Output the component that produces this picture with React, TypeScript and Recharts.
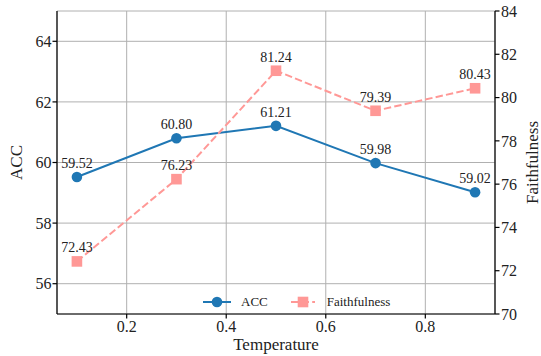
import React from "react"
import {
  LineChart, Line, XAxis, YAxis, CartesianGrid, LabelList,
} from "recharts"

const temps = [0.1, 0.3, 0.5, 0.7, 0.9]
const accValues = [59.52, 60.8, 61.21, 59.98, 59.02]
const faithValues = [72.43, 76.23, 81.24, 79.39, 80.43]
const xTicks = [0.2, 0.4, 0.6, 0.8]
const accTicks = [56, 58, 60, 62, 64]
const faithTicks = [70, 72, 74, 76, 78, 80, 82, 84]

const data = temps.map((t, i) => ({ t, acc: accValues[i], faith: faithValues[i] }))

const FONT = "'Liberation Serif', 'DejaVu Serif', serif"
const BLUE = "#1f77b4"
const PINK = "#ff9896"
const tickStyle = { fontSize: 16, fill: "#222", fontFamily: FONT }

const Square = (props: any) => {
  const { cx, cy } = props
  if (cx == null || cy == null) return null
  return <rect x={cx - 5.3} y={cy - 5.3} width={10.6} height={10.6} fill={PINK} />
}

const LegendBox = () => (
  <div style={{
    position: "absolute", left: 202, top: 295, display: "flex", alignItems: "center",
    fontFamily: FONT, fontSize: 13, color: "#222", lineHeight: "14px",
  }}>
    <svg width={30} height={14}>
      <line x1={1} y1={7} x2={29} y2={7} stroke={BLUE} strokeWidth={2} />
      <circle cx={15} cy={7} r={5.3} fill={BLUE} />
    </svg>
    <span style={{ marginLeft: 9, marginRight: 22 }}>ACC</span>
    <svg width={26} height={14}>
      <line x1={1} y1={7} x2={25} y2={7} stroke={PINK} strokeWidth={2} strokeDasharray="7.4 3.2" />
      <rect x={7.7} y={1.7} width={10.6} height={10.6} fill={PINK} />
    </svg>
    <span style={{ marginLeft: 11 }}>Faithfulness</span>
  </div>
)

export default function App() {
  return (
    <div style={{ position: "absolute", left: 0, top: 0, width: 541, height: 356, background: "#fff" }}>
      <LineChart width={541} height={356} data={data} margin={{ top: 11, right: 0, left: 0, bottom: 0 }}>
        <CartesianGrid yAxisId="acc" stroke="#b0b0b0" strokeWidth={1} />
        <XAxis
          dataKey="t" type="number" domain={[0.06, 0.94]} ticks={xTicks} allowDataOverflow
          tickFormatter={(v) => v.toFixed(1)} height={42} tick={tickStyle}
          tickSize={4.5} tickMargin={2} stroke="#000" strokeWidth={1.2}
          tickLine={{ stroke: "#000" }}
          label={({ viewBox }: any) => (
            <text x={viewBox.x + viewBox.width / 2} y={viewBox.y + 36} textAnchor="middle"
              fontSize={17} fontFamily={FONT} fill="#222">Temperature</text>
          )}
        />
        <XAxis xAxisId="top" orientation="top" dataKey="t" type="number" domain={[0.06, 0.94]}
          height={0} tick={false} tickLine={false} stroke="#000" strokeWidth={1.2} />
        <YAxis
          yAxisId="acc" domain={[55, 65]} ticks={accTicks} width={57} tick={tickStyle}
          tickSize={4.5} tickMargin={1} stroke="#000" strokeWidth={1.2} allowDataOverflow
          label={({ viewBox }: any) => (
            <text x={16} y={viewBox.y + viewBox.height / 2} textAnchor="middle" fontSize={17}
              fontFamily={FONT} fill="#222" dominantBaseline="central"
              transform={`rotate(-90 16 ${viewBox.y + viewBox.height / 2})`}>ACC</text>
          )}
        />
        <YAxis
          yAxisId="faith" orientation="right" domain={[70, 84]} ticks={faithTicks} width={46}
          tick={tickStyle} tickSize={4.5} tickMargin={1.5} stroke="#000" strokeWidth={1.2} allowDataOverflow
          label={({ viewBox }: any) => (
            <text x={532} y={viewBox.y + viewBox.height / 2} textAnchor="middle" fontSize={17}
              fontFamily={FONT} fill="#222" dominantBaseline="central"
              transform={`rotate(-90 532 ${viewBox.y + viewBox.height / 2})`}>Faithfulness</text>
          )}
        />
        <Line yAxisId="acc" dataKey="acc" stroke={BLUE} strokeWidth={2} isAnimationActive={false}
          dot={{ r: 5.3, fill: BLUE, stroke: "none" }} activeDot={false}>
          <LabelList dataKey="acc" position="top" offset={9} formatter={(v: any) => Number(v).toFixed(2)}
            style={{ fontSize: 14, fontFamily: FONT, fill: "#222" }} />
        </Line>
        <Line yAxisId="faith" dataKey="faith" stroke={PINK} strokeWidth={2} strokeDasharray="7.4 3.2"
          isAnimationActive={false} dot={<Square />} activeDot={false}>
          <LabelList dataKey="faith" position="top" offset={9} formatter={(v: any) => Number(v).toFixed(2)}
            style={{ fontSize: 14, fontFamily: FONT, fill: "#222" }} />
        </Line>
      </LineChart>
      <LegendBox />
    </div>
  )
}
